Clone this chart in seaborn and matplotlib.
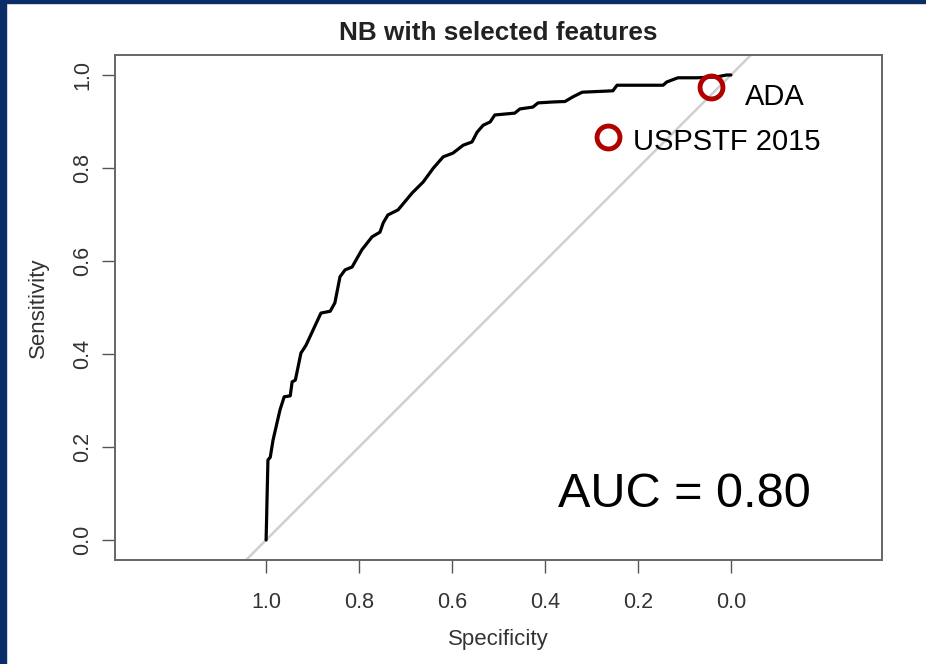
import matplotlib
matplotlib.use("Agg")
import matplotlib.pyplot as plt
from matplotlib.patches import Rectangle
import seaborn as sns
import pandas as pd

# ROC curve (specificity, sensitivity)
specificity = [1.000, 0.999, 0.998, 0.996, 0.991, 0.985, 0.970, 0.961, 0.948, 0.944, 0.937,
               0.925, 0.914, 0.895, 0.882, 0.862, 0.852, 0.841, 0.830, 0.815, 0.794,
               0.772, 0.755, 0.748, 0.738, 0.716, 0.686, 0.662, 0.640, 0.619, 0.598,
               0.576, 0.557, 0.546, 0.533, 0.518, 0.508, 0.465, 0.454, 0.426, 0.415,
               0.383, 0.357, 0.340, 0.320, 0.254, 0.245, 0.146, 0.138, 0.114, 0.073,
               0.030, 0.009, 0.000]
sensitivity = [0.000, 0.040, 0.086, 0.172, 0.178, 0.215, 0.280, 0.308, 0.310, 0.340, 0.344,
               0.402, 0.419, 0.460, 0.488, 0.492, 0.510, 0.566, 0.581, 0.587, 0.624,
               0.652, 0.662, 0.682, 0.699, 0.710, 0.746, 0.770, 0.800, 0.824, 0.832,
               0.849, 0.856, 0.877, 0.892, 0.899, 0.914, 0.918, 0.927, 0.931, 0.940,
               0.942, 0.943, 0.953, 0.963, 0.966, 0.978, 0.978, 0.985, 0.994, 0.994,
               0.996, 1.000, 1.000]

guideline_names = ["ADA", "USPSTF 2015"]
guideline_spec = [0.042, 0.265]
guideline_sens = [0.975, 0.867]

auc_text = "AUC = 0.80"
x_ticks = [1.0, 0.8, 0.6, 0.4, 0.2, 0.0]
y_ticks = [0.0, 0.2, 0.4, 0.6, 0.8, 1.0]

sns.set_theme(style="white")
plt.rcParams['font.family'] = ['Liberation Sans', 'DejaVu Sans']

W, H = 926, 664
fig = plt.figure(figsize=(W / 100, H / 100), dpi=100)
fig.patch.set_facecolor("white")
ax = fig.add_axes([115 / W, 1 - 560 / H, 767 / W, 505 / H])

# navy frame of the slide
navy = "#0a2d68"
fig.patches.append(Rectangle((0, 0), 6 / W, 1, transform=fig.transFigure, color=navy, zorder=10))
fig.patches.append(Rectangle((0, 1 - 3 / H), 1, 3 / H, transform=fig.transFigure, color=navy, zorder=10))

# identity line
ax.axline((1.0, 0.0), (0.0, 1.0), color="#cfcfcf", lw=1.8, zorder=1)

df = pd.DataFrame({"Specificity": specificity, "Sensitivity": sensitivity})
sns.lineplot(data=df, x="Specificity", y="Sensitivity", sort=False, estimator=None,
             color="black", lw=2.3, ax=ax, zorder=3)

gdf = pd.DataFrame({"spec": guideline_spec, "sens": guideline_sens, "name": guideline_names})
ax.plot(gdf["spec"], gdf["sens"], linestyle="none", marker="o", ms=16.5, mew=3.5,
        mfc="none", mec="#b00000", zorder=4)

ax.text(-0.030, 0.9355, guideline_names[0], fontsize=21, color="black", ha="left", va="baseline")
ax.text(0.2108, 0.8387, guideline_names[1], fontsize=21, color="black", ha="left", va="baseline")
ax.text(0.101, 0.071, auc_text, fontsize=35, color="black", ha="center", va="baseline")

ax.set_xlim(1.325, -0.325)
ax.set_ylim(-0.043, 1.043)
ax.set_xticks(x_ticks)
ax.set_xticklabels([f"{v:.1f}" for v in x_ticks])
ax.set_yticks(y_ticks)
ax.set_yticklabels([f"{v:.1f}" for v in y_ticks], rotation=90, va="center")

ax.tick_params(axis="both", which="major", direction="out", length=9.5, width=1.0,
               color="#555555", labelsize=15.5, labelcolor="#333333", bottom=True, left=True)
ax.tick_params(axis="x", pad=13.5)
ax.tick_params(axis="y", pad=6)

for s in ax.spines.values():
    s.set_color("#666666")
    s.set_linewidth(1.4)

ax.set_xlabel("Specificity", fontsize=16, color="#333333")
ax.set_ylabel("Sensitivity", fontsize=16, color="#333333")
ax.xaxis.set_label_coords(0.4993, -0.137)
ax.yaxis.set_label_coords(-0.086, 0.5)

ax.set_title("NB with selected features", fontsize=18.8, fontweight="bold", color="#222222", pad=10.5)

fig.savefig("out.png", dpi=100, facecolor="white")
